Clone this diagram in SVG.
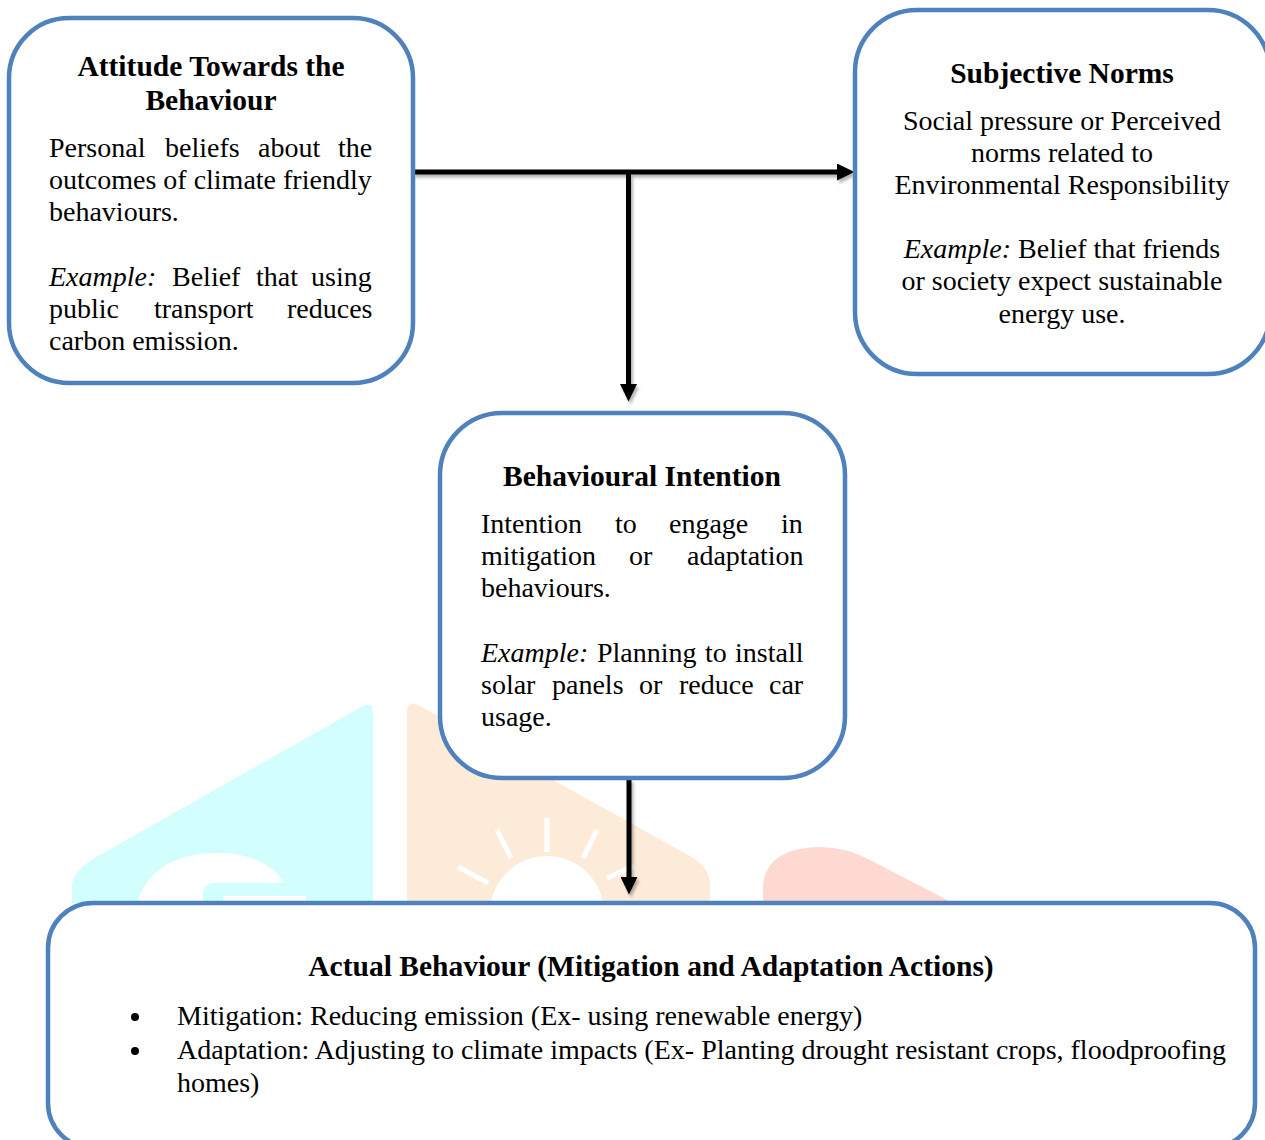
<svg xmlns="http://www.w3.org/2000/svg" width="1265" height="1140" viewBox="0 0 1265 1140">
  <style>
    .box { fill: #ffffff; stroke: #4f81bd; stroke-width: 4.5; }
    .title { font-family: "Liberation Serif", "Times New Roman", serif; font-size: 29.5px; font-weight: bold; fill: #000; }
    .body { font-family: "Liberation Serif", "Times New Roman", serif; font-size: 28px; fill: #000; }
    .it { font-style: italic; }
    .link { fill: none; stroke: #000; stroke-width: 5; }
    .ray { stroke: #ffffff; stroke-width: 5; stroke-linecap: butt; }
  </style>
  <defs>
    <marker id="head" markerUnits="userSpaceOnUse" markerWidth="18" markerHeight="17" viewBox="0 0 18 17" refX="0" refY="8.5" orient="auto">
      <path d="M0,0 L17.5,8.5 L0,17 Z" fill="#000"/>
    </marker>
    <filter id="shade" x="-20%" y="-20%" width="140%" height="140%">
      <feDropShadow dx="2" dy="3" stdDeviation="1.6" flood-color="#000" flood-opacity="0.3"/>
    </filter>
  </defs>

  <rect width="1265" height="1140" fill="#ffffff"/>

  <!-- faint background logo shapes -->
  <g id="logo">
    <path d="M373,903 L373,713 Q373,701 363,706 L98,856 Q72,871 72,886 L72,903 Z" fill="#d3fefe"/>
    <path d="M138,901 C150,862 188,853 217,853 C250,853 274,865 284,883 L213,883 A10,10 0 0 0 203,893 L203,901 Z" fill="#ffffff"/>
    <rect x="223" y="896" width="83" height="5" fill="#ffffff"/>
    <path d="M407,903 L407,712 Q407,700 418,705 L690,856 Q710,867 710,885 L710,903 Z" fill="#fdebda"/>
    <circle cx="547" cy="913" r="57" fill="#ffffff"/>
    <line class="ray" x1="547" y1="818" x2="547" y2="852"/>
    <line class="ray" x1="497" y1="830" x2="511" y2="858"/>
    <line class="ray" x1="597" y1="830" x2="583" y2="858"/>
    <line class="ray" x1="458" y1="867" x2="488" y2="883"/>
    <line class="ray" x1="607" y1="878" x2="634" y2="866"/>
    <path d="M763,903 L763,886 Q766,848 820,847 Q846,847 872,861 L953,903 Z" fill="#fdd9d2"/>
  </g>

  <!-- connectors -->
  <g id="connectors" filter="url(#shade)">
    <path class="link" d="M413,172 H837" marker-end="url(#head)"/>
    <path class="link" d="M628.5,172 V384" marker-end="url(#head)"/>
    <path class="link" d="M629,779 V877" marker-end="url(#head)"/>
  </g>

  <!-- attitude -->
  <g id="attitude">
    <rect class="box" x="9" y="18" width="404" height="365" rx="60"/>
    <text class="title" x="211" y="76" text-anchor="middle">Attitude Towards the</text>
    <text class="title" x="211" y="110" text-anchor="middle">Behaviour</text>
    <text class="body" y="157"><tspan x="49">Personal</tspan><tspan x="165">beliefs</tspan><tspan x="258">about</tspan><tspan x="338">the</tspan></text>
    <text class="body" x="49" y="189">outcomes of climate friendly</text>
    <text class="body" x="49" y="221">behaviours.</text>
    <text class="body" y="286"><tspan x="49" class="it">Example:</tspan><tspan x="172">Belief</tspan><tspan x="256">that</tspan><tspan x="311">using</tspan></text>
    <text class="body" y="318"><tspan x="49">public</tspan><tspan x="154">transport</tspan><tspan x="287">reduces</tspan></text>
    <text class="body" x="49" y="350">carbon emission.</text>
  </g>

  <!-- subjective norms -->
  <g id="norms">
    <rect class="box" x="855" y="10" width="415" height="364" rx="62"/>
    <text class="title" x="1062" y="83" text-anchor="middle">Subjective Norms</text>
    <text class="body" x="1062" y="130" text-anchor="middle">Social pressure or Perceived</text>
    <text class="body" x="1062" y="162" text-anchor="middle">norms related to</text>
    <text class="body" x="1062" y="194" text-anchor="middle">Environmental Responsibility</text>
    <text class="body" x="1062" y="258" text-anchor="middle"><tspan class="it">Example:</tspan> Belief that friends</text>
    <text class="body" x="1062" y="290" text-anchor="middle">or society expect sustainable</text>
    <text class="body" x="1062" y="323" text-anchor="middle">energy use.</text>
  </g>

  <!-- intention -->
  <g id="intention">
    <rect class="box" x="440" y="413" width="405" height="365" rx="62"/>
    <text class="title" x="642" y="486" text-anchor="middle">Behavioural Intention</text>
    <text class="body" y="533"><tspan x="481">Intention</tspan><tspan x="615">to</tspan><tspan x="669">engage</tspan><tspan x="781">in</tspan></text>
    <text class="body" y="565"><tspan x="481">mitigation</tspan><tspan x="629">or</tspan><tspan x="687">adaptation</tspan></text>
    <text class="body" x="481" y="597">behaviours.</text>
    <text class="body" y="662"><tspan x="481" class="it">Example:</tspan><tspan x="597">Planning</tspan><tspan x="705">to</tspan><tspan x="735">install</tspan></text>
    <text class="body" y="694"><tspan x="481">solar</tspan><tspan x="552">panels</tspan><tspan x="639">or</tspan><tspan x="679">reduce</tspan><tspan x="769">car</tspan></text>
    <text class="body" x="481" y="726">usage.</text>
  </g>

  <!-- actual behaviour -->
  <g id="behaviour">
    <rect class="box" x="48" y="903" width="1207" height="245" rx="45"/>
    <text class="title" x="651" y="976" text-anchor="middle">Actual Behaviour (Mitigation and Adaptation Actions)</text>
    <circle cx="135" cy="1017" r="4" fill="#000"/>
    <circle cx="135" cy="1051" r="4" fill="#000"/>
    <text class="body" x="177" y="1025">Mitigation: Reducing emission (Ex- using renewable energy)</text>
    <text class="body" x="177" y="1059">Adaptation: Adjusting to climate impacts (Ex- Planting drought resistant crops, floodproofing</text>
    <text class="body" x="177" y="1092">homes)</text>
  </g>
</svg>
